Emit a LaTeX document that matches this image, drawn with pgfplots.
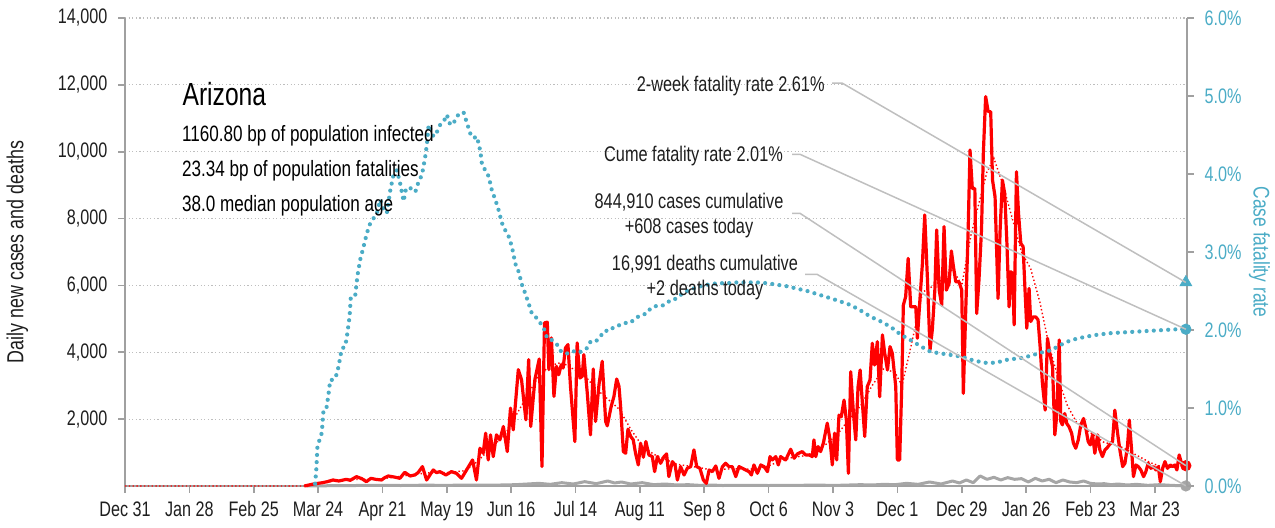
\documentclass[border=0pt]{standalone}
\usepackage{fontspec}
\setmainfont{Liberation Sans}[FakeStretch=0.77]
\usepackage{pgfplots}
\pgfplotsset{compat=1.18}
\definecolor{cfr}{RGB}{75,172,198}
\definecolor{axgray}{RGB}{160,160,160}
\definecolor{gridgray}{RGB}{190,190,190}
\definecolor{dgray}{RGB}{166,166,166}
\definecolor{anngray}{RGB}{191,191,191}
\definecolor{txt}{RGB}{30,30,30}
\begin{document}
\begin{tikzpicture}[font=\fontsize{10.5}{12}\selectfont]
\path[use as bounding box] (-62.5pt,-20.5pt) rectangle (575pt,243pt);
\pgfplotsset{base/.style={
  scale only axis, width=531pt, height=234pt, at={(0pt,0pt)}, anchor=south west,
  xmin=0, xmax=462, clip=false,
  /pgf/number format/assume math mode=true,
  tick align=outside, major tick length=3.3pt,
  tick style={color=axgray, line width=0.8pt},
  axis line style={color=axgray, line width=1pt},
}}
\begin{axis}[base,
  ymin=0, ymax=14000,
  axis y line*=left, axis x line*=bottom,
  xtick={0,28,...,448},
  xticklabels={Dec 31,Jan 28,Feb 25,Mar 24,Apr 21,May 19,Jun 16,Jul 14,Aug 11,Sep 8,Oct 6,Nov 3,Dec 1,Dec 29,Jan 26,Feb 23,Mar 23},
  xticklabel style={text=txt, yshift=-1pt},
  ytick={2000,4000,...,14000},
  scaled y ticks=false,
  yticklabel style={text=txt, /pgf/number format/1000 sep={,}, xshift=-2pt},
  ymajorgrids, grid style={color=gridgray, line width=0.6pt, dash pattern=on 0.6pt off 1.2pt},
]
% daily deaths
\addplot[dgray, line width=1.5pt, line join=round] coordinates {
(79,0)(85,5)(90,10)(100,15)(110,20)(120,15)(130,25)(140,20)(150,30)(160,25)(170,40)(175,60)(180,80)(185,50)(190,100)(195,60)(200,130)(205,70)(210,150)(213,90)(216,120)(220,60)(225,100)(230,40)(235,60)(240,30)(245,40)(250,20)(255,30)(260,15)(270,20)(280,15)(290,20)(300,25)(310,20)(320,40)(325,30)(330,50)(335,40)(340,80)(345,50)(350,120)(355,60)(360,150)(363,90)(366,180)(369,100)(372,300)(375,200)(378,260)(381,180)(384,250)(387,200)(390,220)(393,120)(396,230)(399,150)(402,200)(405,100)(408,180)(411,120)(414,100)(417,150)(420,80)(423,60)(426,70)(429,40)(432,60)(436,30)(440,50)(445,20)(450,40)(455,20)(461.5,2)
};
% daily new cases
\addplot[red, line width=1.6pt, line join=round] coordinates {
(78,0)(80,30)(82,60)(84,80)(86,100)(88,130)(90.5,180)(93,150)(96.3,200)(98,170)(100.7,280)(103,220)(105,130)(107,230)(109,200)(111.6,180)(113,250)(114.5,300)(117,270)(119.6,230)(121.7,410)(124,300)(126.1,330)(127.5,400)(129.4,580)(131.2,180)(134.1,480)(135.5,400)(137,430)(139.6,330)(142,430)(144.2,380)(146.4,230)(148.6,480)(151.2,780)(152.9,180)(154.4,1130)(155.8,980)(156.9,1580)(158,780)(159,1530)(160.2,880)(161.6,1530)(163.1,1380)(164.6,1780)(166.3,1030)(167.7,2330)(168.9,1680)(171.1,3480)(172.5,3180)(174.4,1980)(175.6,3780)(176.5,1780)(178.3,3180)(180.2,3800)(181.4,580)(182.5,4880)(183.7,4900)(184.4,3480)(185.5,4430)(186.6,2680)(187.7,3580)(188.7,3330)(189.8,3630)(190.6,3530)(191.6,4130)(192.7,4230)(193.8,2980)(195.7,1330)(196.7,4280)(197.9,3230)(198.9,3280)(199.6,3930)(201.1,2780)(202.5,1530)(203.7,3500)(204.7,1930)(206.2,3030)(207.6,3730)(209.1,1930)(209.8,1800)(211.5,2380)(212.7,2680)(213.9,3200)(214.9,2980)(215.6,2380)(216.8,1030)(217.8,980)(218.8,1700)(220,1480)(221.1,1380)(222.1,980)(223.3,630)(224.3,1280)(225.5,860)(226.6,1330)(227.9,930)(229.4,880)(230.4,430)(231.6,880)(233,680)(234.5,880)(235.6,960)(236.6,280)(238.1,730)(239.3,630)(240.3,180)(241.7,580)(243.2,330)(244.6,530)(246.1,580)(247.5,1080)(248.7,580)(250.1,530)(251.6,180)(252.9,80)(254.1,480)(255.5,430)(257,600)(258.4,230)(259.9,580)(261.3,680)(262.8,580)(264.2,580)(265.7,280)(267.1,580)(268.6,530)(270,480)(271.5,430)(272.5,330)(273.6,630)(275.1,380)(276.6,630)(278,580)(279.5,430)(280.6,880)(281.6,780)(283.1,880)(284.2,630)(285.2,880)(287.4,780)(289.6,1100)(291.1,830)(292.5,960)(294.6,1030)(296.1,930)(297.6,930)(299,880)(299.7,1380)(300.5,880)(301.5,1180)(302.6,1030)(303.8,1280)(305.5,1880)(306.7,1380)(307.7,630)(308.7,1580)(309.6,780)(310.6,2120)(311.6,2070)(312.8,2570)(313.8,1980)(314.7,380)(315.7,3420)(316.9,2170)(317.9,1380)(318.9,2970)(319.8,3470)(320.8,2470)(321.8,1480)(322.9,2970)(324.1,3170)(325.1,4270)(326.1,3620)(327.3,4320)(328.3,2670)(329.5,4520)(330.5,3970)(331.7,3470)(332.8,4170)(333.8,3970)(335.3,2970)(336,780)(337,780)(337.9,2970)(338.6,5410)(339.6,5660)(340.7,6810)(341.8,5360)(343,5360)(344,5360)(344.7,4420)(345.9,5660)(346.9,6660)(347.9,8110)(349.1,6160)(350.2,4070)(351.2,4670)(352.3,5860)(353.1,7660)(354.2,5860)(355.3,5410)(356.3,7760)(357.3,5860)(358.5,6060)(359.5,7030)(360.4,6560)(361.4,6110)(362.8,6110)(364,5860)(364.7,2770)(365.7,5160)(366.8,7660)(367.6,10050)(368.6,8900)(369.7,8900)(370.5,5160)(371.5,6160)(372.6,7660)(373.4,9950)(374.4,11650)(375.5,11200)(376.6,11200)(377.4,9150)(378.5,8650)(379.8,5610)(380.7,7660)(381.7,9150)(382.7,8750)(383.6,7360)(384.6,5360)(385.3,6410)(386.1,6360)(386.8,4820)(387.8,9400)(388.7,8160)(389.7,7260)(390.7,7160)(391.4,6060)(392.3,4720)(393.3,5910)(394,4920)(395.1,5060)(396.2,5060)(397.2,4970)(398.1,4170)(399.1,3070)(400.3,2270)(401.3,4420)(402.3,3970)(403.5,3570)(404.5,1530)(405.4,2170)(406.4,4370)(407.1,1930)(407.8,1830)(408.8,2170)(409.7,1870)(410.7,1770)(411.8,1580)(412.6,1280)(413.6,1130)(414.7,1380)(415.8,1830)(417,2020)(418,1720)(419,1330)(419.9,1230)(420.9,1530)(421.9,980)(423.1,1530)(424.1,1080)(425.2,880)(426.3,1080)(427.1,1130)(428.2,1230)(429.6,1330)(430.6,2270)(431.8,1580)(432.8,1080)(434,580)(435,680)(436.1,1180)(436.9,1970)(437.9,1080)(438.7,280)(439.8,630)(440.8,580)(441.9,480)(443.1,280)(444.1,430)(445.1,680)(446.3,530)(447.5,580)(448.5,480)(449.5,580)(450.4,130)(451.4,530)(452.4,730)(453.5,530)(454.7,630)(455.7,580)(456.7,630)(457.6,480)(458.6,930)(459.6,680)(460.8,580)(461.5,608)
};
% 7-day average of cases
\addplot[red, line width=0.7pt, dash pattern=on 0.7pt off 1.2pt] coordinates {
(0,0)(78,0)(84,80)(91,150)(98,200)(105,200)(112,220)(119,280)(126,350)(133,400)(140,400)(147,450)(151,600)(155,850)(160,1200)(165,1500)(170,2100)(175,2700)(180,3300)(185,3600)(190,3700)(195,3500)(200,3300)(205,2900)(210,2600)(215,2300)(220,1700)(225,1200)(230,950)(235,800)(240,650)(245,600)(250,550)(255,480)(260,500)(265,520)(270,500)(275,520)(280,600)(285,750)(290,850)(295,900)(300,1000)(305,1250)(310,1550)(315,2000)(320,2400)(325,3000)(330,3500)(335,3400)(338,3000)(342,4200)(347,5800)(352,6000)(356,6200)(360,6500)(364,6000)(368,7500)(372,8600)(375,9400)(378,9800)(382,9000)(386,8000)(390,7000)(394,6500)(398,5500)(402,4200)(406,3200)(410,2400)(414,1900)(418,1700)(422,1500)(426,1300)(430,1250)(434,1150)(438,1000)(442,850)(446,700)(450,600)(455,560)(461.5,580)
};
\addplot[only marks, mark=*, mark size=2.6pt, color=dgray] coordinates {(461.5,2)};
\addplot[only marks, mark=*, mark size=2.6pt, color=red] coordinates {(461.5,608)};
\end{axis}
\begin{axis}[base,
  ymin=0, ymax=6,
  axis y line*=right, axis x line=none,
  ytick={0,1,...,6},
  yticklabel={\pgfmathprintnumber[fixed,fixed zerofill,precision=1]{\tick}\%},
  yticklabel style={text=cfr, xshift=2pt},
]
\addplot[cfr, line width=2.1pt, line cap=round, dash pattern=on 0pt off 3.6pt] coordinates {
(82.7,0.03)(83.2,0.2)(83.7,0.5)(84.6,0.59)(85.6,0.68)(86.3,0.95)(87.5,0.97)(88.5,1.17)(89.3,1.36)(90.7,1.36)(91.9,1.42)(92.9,1.53)(94.3,1.76)(95.8,1.79)(96.5,1.91)(97.7,2.17)(98.2,2.41)(100.1,2.43)(101.2,2.71)(102.3,2.9)(103.8,3.07)(105.2,3.24)(106.7,3.37)(108.1,3.43)(109.6,3.5)(111,3.67)(112.5,3.54)(113.9,3.5)(115.4,3.79)(116.8,3.99)(118.3,4.05)(119.7,3.88)(121.2,3.65)(122.3,3.82)(124.1,3.82)(126.3,3.77)(127.7,3.9)(129.2,3.99)(130.6,4.22)(131.3,4.37)(132.1,4.63)(134.2,4.48)(135.7,4.54)(137.1,4.63)(138.6,4.67)(140,4.76)(141.5,4.63)(142.9,4.65)(144.4,4.74)(145.8,4.78)(147.3,4.79)(148.8,4.65)(150.2,4.52)(151.6,4.46)(153.1,4.48)(154.6,4.29)(155.3,4.12)(156.7,4.05)(158.2,3.97)(159.6,3.79)(161.1,3.67)(162.5,3.54)(164,3.37)(165.4,3.28)(166.9,3.2)(168.3,3.07)(169.8,2.85)(171.2,2.75)(172.7,2.58)(174.1,2.47)(175.6,2.34)(177,2.21)(179.2,2.15)(181.4,2.06)(182.5,2.0)(183.7,1.89)(185.8,1.87)(188,1.81)(189.8,1.72)(191.6,1.7)(193.8,1.7)(196,1.74)(198.2,1.72)(201.1,1.77)(202.5,1.85)(204.7,1.85)(206.6,1.91)(208.6,1.99)(210.9,1.99)(212.7,2.04)(214.9,2.06)(217,2.09)(219.7,2.09)(222.1,2.15)(224.3,2.19)(226.9,2.21)(228.7,2.28)(231.3,2.31)(233.7,2.31)(235.9,2.36)(238.8,2.38)(240,2.42)(244.5,2.5)(248.9,2.55)(253.2,2.58)(257.6,2.6)(262,2.6)(266.3,2.61)(270.7,2.61)(275,2.61)(279.4,2.6)(283.7,2.58)(288.1,2.56)(292.4,2.53)(296.8,2.5)(301.1,2.46)(305.5,2.42)(309.8,2.38)(315.7,2.32)(320,2.25)(324.4,2.17)(328.8,2.11)(333.1,2.04)(337.5,1.94)(341.8,1.87)(346.2,1.79)(350.5,1.72)(354.9,1.7)(359.2,1.68)(363.6,1.66)(367.9,1.62)(373.7,1.58)(378.8,1.58)(383.9,1.62)(389.7,1.64)(394,1.67)(398.4,1.71)(402.8,1.74)(407.1,1.81)(411.5,1.87)(417.3,1.91)(423.1,1.94)(428.9,1.96)(434.7,1.97)(440.5,1.98)(446.3,1.99)(452.1,2.0)(457.9,2.01)(461.5,2.01)
};
\addplot[only marks, mark=*, mark size=2.6pt, color=cfr] coordinates {(461.5,2.01)};
\addplot[only marks, mark=triangle*, mark size=3.4pt, color=cfr] coordinates {(461.5,2.61)};
\end{axis}
% annotation leader lines
\draw[anngray, line width=0.75pt] (353.5pt,201.5pt) -- (358.5pt,201.5pt) -- (530.4pt,101.8pt);
\draw[anngray, line width=0.75pt] (333.5pt,165.85pt) -- (337.5pt,165.85pt) -- (530.4pt,78.4pt);
\draw[anngray, line width=0.75pt] (333.5pt,136.35pt) -- (337.5pt,136.35pt) -- (530.4pt,10.2pt);
\draw[anngray, line width=0.75pt] (340pt,105.85pt) -- (346pt,105.85pt) -- (530.4pt,0.1pt);
% annotation texts
\begin{scope}[every node/.style={inner sep=0pt, text=txt, font=\fontsize{10.6}{12}\selectfont}]
\node[anchor=base east] at (350pt,197.15pt) {2-week fatality rate 2.61\%};
\node[anchor=base east] at (329.15pt,162.15pt) {Cume fatality rate 2.01\%};
\node[anchor=base] at (282pt,138.85pt) {844,910 cases cumulative};
\node[anchor=base] at (282pt,126.35pt) {+608 cases today};
\node[anchor=base] at (290pt,107.65pt) {16,991 deaths cumulative};
\node[anchor=base] at (290pt,95.5pt) {+2 deaths today};
\end{scope}
\begin{scope}[every node/.style={inner sep=0pt, text=black, anchor=base west}]
\node[font=\fontsize{16}{18}\selectfont] at (28.6pt,190.5pt) {Arizona};
\node[font=\fontsize{11.1}{13}\selectfont] at (28.35pt,172.15pt) {1160.80 bp of population infected};
\node[font=\fontsize{11.1}{13}\selectfont] at (28.35pt,154.65pt) {23.34 bp of population fatalities};
\node[font=\fontsize{11.1}{13}\selectfont] at (28.35pt,137.15pt) {38.0 median population age};
\end{scope}
% axis titles
\node[rotate=90, inner sep=0pt, text=txt, font=\fontsize{11.6}{13}\selectfont] at (-53.75pt,117pt) {Daily new cases and deaths};
\node[rotate=-90, inner sep=0pt, text=cfr, font=\fontsize{11.3}{13}\selectfont] at (567.25pt,117pt) {Case fatality rate};
\end{tikzpicture}
\end{document}
